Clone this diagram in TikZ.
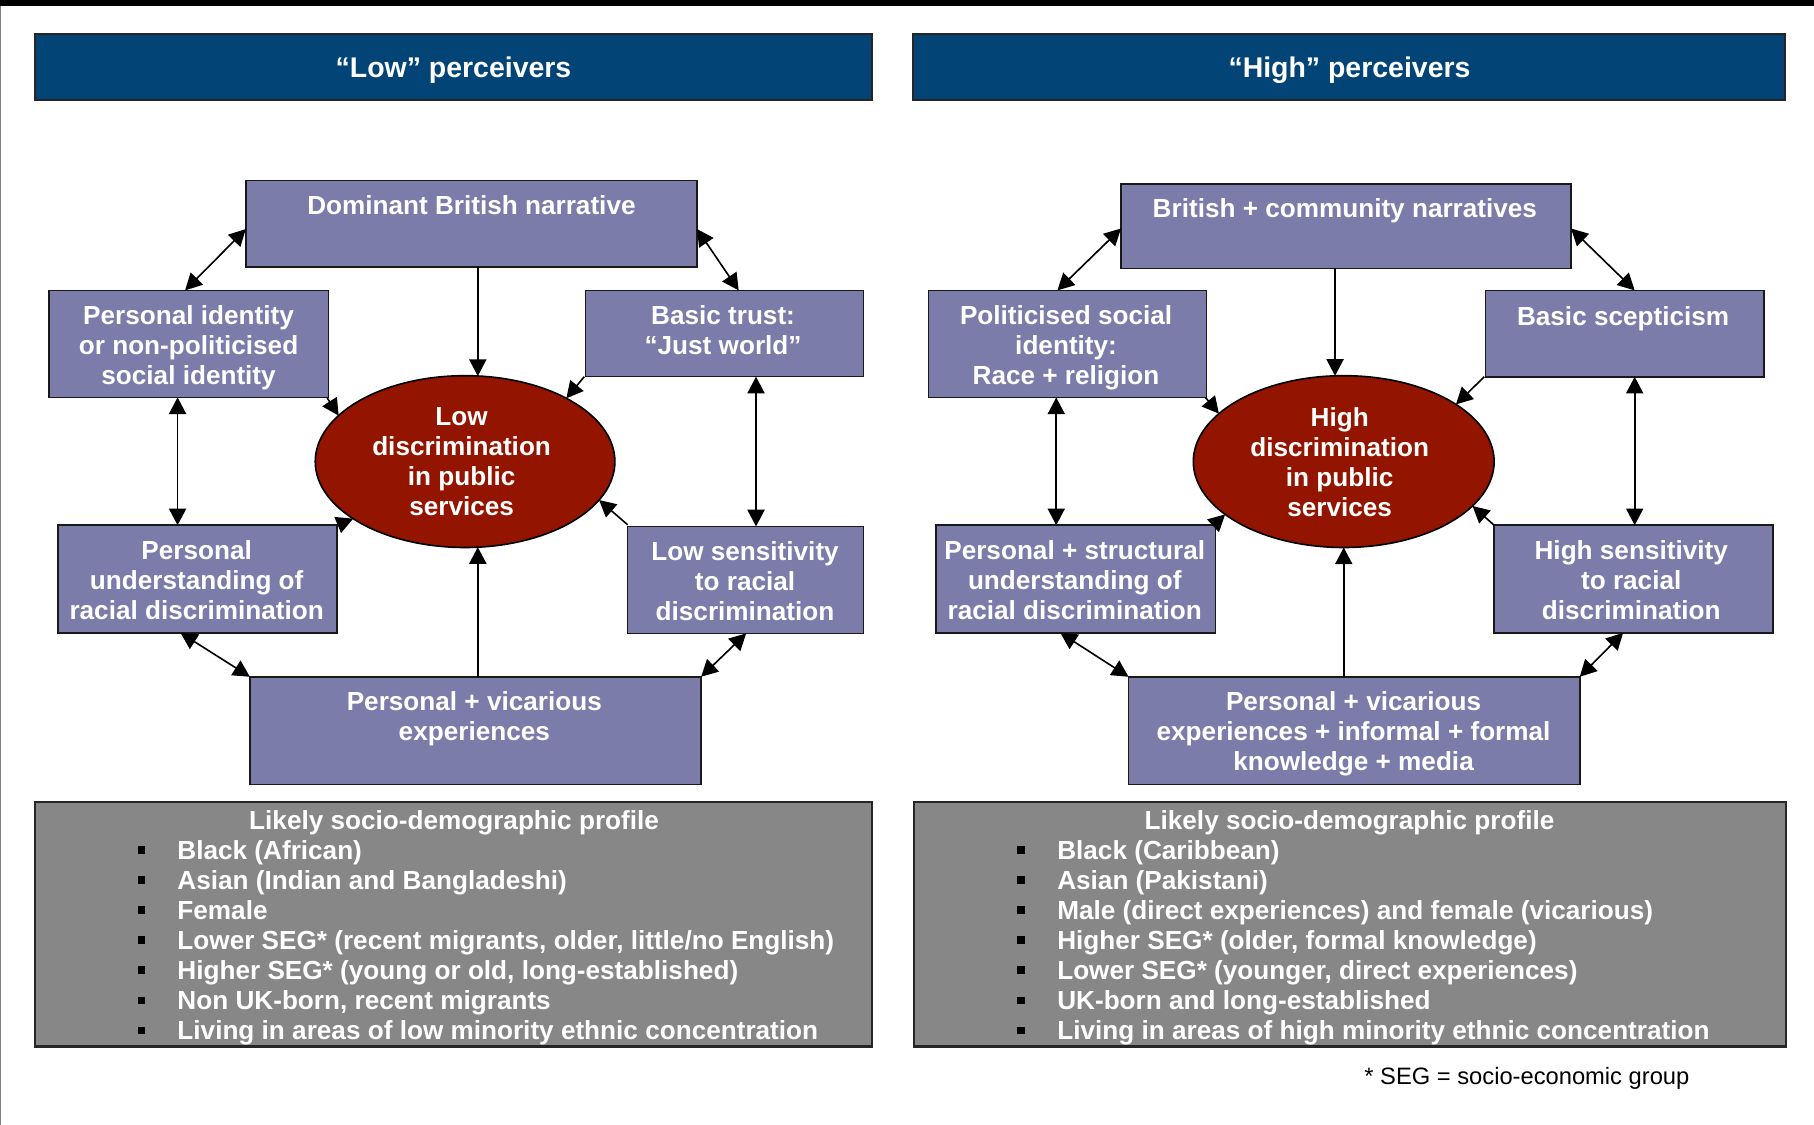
\documentclass[tikz,border=0pt]{standalone}
\usepackage{fontspec}
\setmainfont{Liberation Sans}
\usetikzlibrary{arrows.meta,fit,shapes.geometric}
\definecolor{hdrblue}{HTML}{034477}
\definecolor{boxlav}{HTML}{7B7CA9}
\definecolor{ellred}{HTML}{931500}
\definecolor{profgray}{HTML}{878787}
\newcommand{\pbul}{\makebox[17.25pt][l]{{\color{black}\rule[2.4pt]{3.2pt}{3.2pt}}}}
\begin{document}
\begin{tikzpicture}[x=0.5pt,y=-0.5pt,
 hdr/.style={draw=black!85, line width=0.9pt, fill=hdrblue, inner sep=0pt, outer sep=0pt},
 box/.style={draw=black!90, line width=0.7pt, fill=boxlav, inner sep=0pt, outer sep=0pt},
 prof/.style={draw=black!85, line width=0.9pt, fill=profgray, inner sep=0pt, outer sep=0pt},
 ell/.style={ellipse, draw=black, line width=0.7pt, fill=ellred, inner sep=0pt, outer sep=0pt},
 txt/.style={text=white, font=\bfseries\fontsize{11.3}{13}\selectfont, align=center, inner sep=0pt, execute at begin node=\strut, execute at end node=\strut},
 htxt/.style={text=white, font=\bfseries\fontsize{12.3}{14.5}\selectfont, inner sep=0pt, execute at begin node=\strut},
 ltxt/.style={text=white, font=\bfseries\fontsize{11.3}{13}\selectfont, align=left, inner sep=0pt, execute at begin node=\strut, execute at end node=\strut},
 dbl/.style={{Triangle[length=7.2pt,width=7.4pt]}-{Triangle[length=7.2pt,width=7.4pt]}, line width=0.7pt},
 one/.style={-{Triangle[length=7.2pt,width=7.4pt]}, line width=0.7pt},
]
\useasboundingbox (0,0) rectangle (1568,972);
\fill[black] (0,0) rectangle (1568,5);
\draw[gray, line width=0.6pt] (0.6,5) -- (0.6,972);

% ---------- headers
\node[hdr, fit={(30,29.5) (754,86.5)}] (hL) {};
\node[hdr, fit={(789,29.5) (1543,86.5)}] (hR) {};
\node[htxt] (thL) at (392,61) {“Low” perceivers};
\node[htxt] (thR) at (1166.5,61) {“High” perceivers};

% ---------- left diagram
\node[box, fit={(212.5,156) (602.5,230.7)}] (domL) {};
\node[box, fit={(42.5,251) (284,343.5)}] (pidL) {};
\node[box, fit={(506,251) (746.5,325.6)}] (btL) {};
\node[ell, minimum width=129.5pt, minimum height=74.25pt] (ellL) at (402,399) {};
\node[box, fit={(50,454) (291.5,547)}] (puL) {};
\node[box, fit={(542.5,455) (746.5,547.5)}] (lsL) {};
\node[box, fit={(216,585) (606,678)}] (pvL) {};
\node[prof, fit={(30,693.4) (754,904.6)}] (profL) {};

\node[txt] (tdomL) at (407.5,180.5) {Dominant British narrative};
\node[txt] (tpidL) at (163,302) {Personal identity\\or non-politicised\\social identity};
\node[txt] (tbtL) at (625,289) {Basic trust:\\“Just world”};
\node[txt] (tellL) at (399,403) {Low\\discrimination\\in public\\services};
\node[txt] (tpuL) at (170,505) {Personal\\understanding of\\racial discrimination};
\node[txt] (tlsL) at (644,506) {Low sensitivity\\to racial\\discrimination};
\node[txt] (tpvL) at (410,622.5) {Personal + vicarious\\experiences};
\node[txt] (ptL) at (392.5,712) {Likely socio-demographic profile};
\node[ltxt, anchor=west] (listL) at (118.5,816.3) {\pbul Black (African)\\
\pbul Asian (Indian and Bangladeshi)\\
\pbul Female\\
\pbul Lower SEG* (recent migrants, older, little/no English)\\
\pbul Higher SEG* (young or old, long-established)\\
\pbul Non UK-born, recent migrants\\
\pbul Living in areas of low minority ethnic concentration};

\draw[dbl] ([shift={(0,4.65)}]domL.west) -- ([shift={(-3.25,0)}]pidL.north);
\draw[dbl] ([shift={(0,4.65)}]domL.east) -- ([shift={(12.25,0)}]btL.north);
\draw[one] ([shift={(5.5,0)}]domL.south) -- ([shift={(11,0.3)}]ellL.north);
\draw[one] ([shift={(-1.5,0)}]pidL.south east) -- (ellL.160);
\draw[one] ([shift={(-1,0)}]btL.south west) -- (ellL.32);
\draw[dbl] ([shift={(-9.75,0)}]pidL.south) -- ([shift={(-17.25,0)}]puL.north);
\draw[dbl] ([shift={(27.25,0)}]btL.south) -- ([shift={(9,0)}]lsL.north);
\draw[one] (puL.north east) -- (ellL.207);
\draw[one] ([shift={(0,-1.4)}]lsL.north west) -- (ellL.-16);
\draw[one] ([shift={(2,0)}]pvL.north) -- ([shift={(11,-0.3)}]ellL.south);
\draw[dbl] ([shift={(-14.75,0)}]puL.south) -- (pvL.north west);
\draw[dbl] ([shift={(0.5,0)}]lsL.south) -- (pvL.north east);

% ---------- right diagram
\node[box, fit={(969,158.8) (1358,232)}] (domR) {};
\node[box, fit={(802.5,251) (1043,343.6)}] (pidR) {};
\node[box, fit={(1284,251) (1524.5,325.7)}] (btR) {};
\node[ell, minimum width=130pt, minimum height=74.25pt] (ellR) at (1161.5,399) {};
\node[box, fit={(809,454) (1050.5,547)}] (puR) {};
\node[box, fit={(1291.5,454) (1532.5,547)}] (lsR) {};
\node[box, fit={(975.5,585) (1365.5,678)}] (pvR) {};
\node[prof, fit={(790,693.4) (1544,904.6)}] (profR) {};

\node[txt] (tdomR) at (1162.5,183) {British + community narratives};
\node[txt] (tpidR) at (921.5,302) {Politicised social\\identity:\\Race + religion};
\node[txt] (tbtR) at (1403,276) {Basic scepticism};
\node[txt] (tellR) at (1158,403) {High\\discrimination\\in public\\services};
\node[txt] (tpuR) at (929,505) {Personal + structural\\understanding of\\racial discrimination};
\node[txt] (tlsR) at (1410,505) {High sensitivity\\to racial\\discrimination};
\node[txt] (tpvR) at (1170,636) {Personal + vicarious\\experiences + informal + formal\\knowledge + media};
\node[txt] (ptR) at (1166.5,712) {Likely socio-demographic profile};
\node[ltxt, anchor=west] (listR) at (879,816.3) {\pbul Black (Caribbean)\\
\pbul Asian (Pakistani)\\
\pbul Male (direct experiences) and female (vicarious)\\
\pbul Higher SEG* (older, formal knowledge)\\
\pbul Lower SEG* (younger, direct experiences)\\
\pbul UK-born and long-established\\
\pbul Living in areas of high minority ethnic concentration};

\draw[dbl] ([shift={(0,2.1)}]domR.west) -- ([shift={(-8.75,0)}]pidR.north);
\draw[dbl] ([shift={(0,2.1)}]domR.east) -- ([shift={(8.75,0)}]btR.north);
\draw[one] ([shift={(-9.5,0)}]domR.south) -- ([shift={(-7.5,0.1)}]ellR.north);
\draw[one] ([shift={(-1,0)}]pidR.south east) -- (ellR.159);
\draw[one] ([shift={(-1,0)}]btR.south west) -- (ellR.27);
\draw[dbl] ([shift={(-9.75,0)}]pidR.south) -- ([shift={(-16.75,0)}]puR.north);
\draw[dbl] ([shift={(8.75,0)}]btR.south) -- ([shift={(1,0)}]lsR.north);
\draw[one] ([shift={(-1.5,0)}]puR.north east) -- (ellR.204);
\draw[one] (lsR.north west) -- (ellR.-19);
\draw[one] ([shift={(-9,0)}]pvR.north) -- (ellR.south);
\draw[dbl] ([shift={(-13.25,0)}]puR.south) -- (pvR.north west);
\draw[dbl] ([shift={(-9,0)}]lsR.south) -- (pvR.north east);

\node[anchor=west, font=\fontsize{10.25}{12}\selectfont, inner sep=0pt, execute at begin node=\strut] (fn) at (1179,932.5) {* SEG = socio-economic group};
\end{tikzpicture}
\end{document}
